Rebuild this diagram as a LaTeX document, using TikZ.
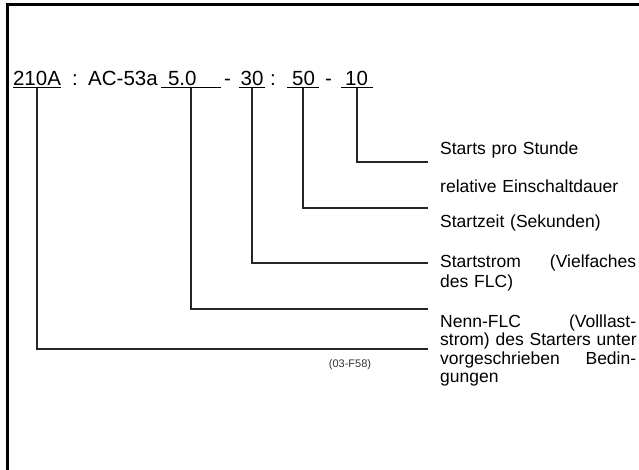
\documentclass[tikz,border=0pt]{standalone}
\usepackage{fontspec}
\setmainfont{Liberation Sans}
\usetikzlibrary{positioning}

\begin{document}
\begin{tikzpicture}[
  x=1pt, y=-1pt,
  % ---- text ----------------------------------------------------------------
  code/.style={
    anchor=base west, inner sep=0pt, text=black,
    font=\fontsize{20.5}{24}\selectfont},
  field/.style={code, anchor=base},
  note/.style={
    anchor=base west, inner sep=0pt, align=left, text width=196pt,
    text=black, font=\fontsize{17.5}{18.5}\selectfont},
  tag/.style={inner sep=0pt, text=black!80, font=\fontsize{11}{13}\selectfont},
  % ---- lines ---------------------------------------------------------------
  frame/.style={draw=black, line width=3pt},
  lead/.style={draw=black!85, line width=1.8pt},
]
\useasboundingbox (0,0) rectangle (639,470);

% ---- frame (open to the right and bottom) ---------------------------------
\draw[frame] (639,5) -- (7,5) -- (7,470);

% ---- type designation ------------------------------------------------------
% fields are placed at the x of their leader
\node[field] (f1) at (37,86)  {\underline{210A}};
\node[code]  (c1) at (72,86)  {:};
\node[code]  (ac) at (88,86)  {AC-53a};
\node[field] (f2) at (191,86) {\underline{\hspace{7pt}5.0\hspace{24.5pt}}};
\node[code]  (d1) at (224,86) {-};
\node[field] (f3) at (252,86) {\underline{\hspace{2pt}30\hspace{2pt}}};
\node[code]  (c2) at (270,86) {:};
\node[field] (f4) at (303,86) {\underline{\hspace{5pt}50\hspace{4pt}}};
\node[code]  (d2) at (325,86) {-};
\node[field] (f5) at (357,86) {\underline{\hspace{4pt}10\hspace{5pt}}};

% ---- explanations ----------------------------------------------------------
\node[note] (n5) at (440,155) {Starts pro Stunde};
\node[note] (n4) at (440,193) {relative Einschaltdauer};
\node[note] (n3) at (440,228) {Startzeit (Sekunden)};
\node[note, font=\fontsize{17.5}{20}\selectfont] (n2) at (440,267)
  {Startstrom\hfill(Vielfaches\\des FLC)};
\node[note] (n1) at (440,327)
  {Nenn-FLC\hfill(Volllast-\\\mbox{strom) des Starters unter}\\vorgeschrieben\hfill Bedin-\\gungen};

\node[tag] (ref) at (350,365) {(03-F58)};

% ---- leaders ---------------------------------------------------------------
\coordinate (e5) at (428,162);
\coordinate (e4) at (428,208);
\coordinate (e3) at (428,263);
\coordinate (e2) at (428,309);
\coordinate (e1) at (428,349);

\draw[lead] (f5.south) |- (e5);
\draw[lead] (f4.south) |- (e4);
\draw[lead] (f3.south) |- (e3);
\draw[lead] (f2.south) |- (e2);
\draw[lead] (f1.south) |- (e1);

\end{tikzpicture}
\end{document}
